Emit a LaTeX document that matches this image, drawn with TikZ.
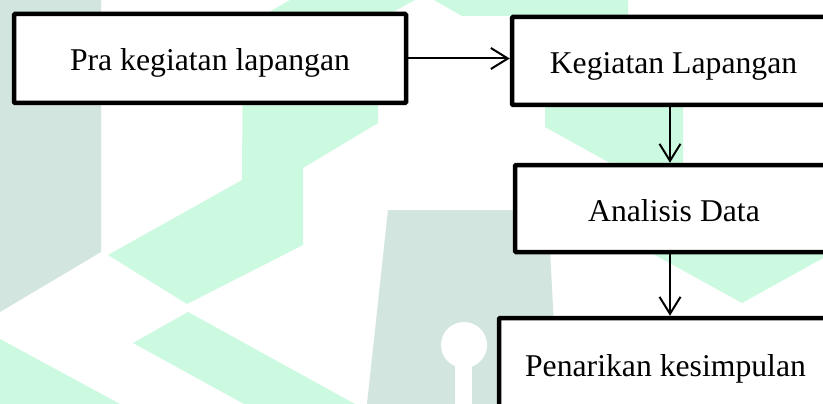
\documentclass[tikz,border=0pt]{standalone}
\usepackage{fontspec}
\setmainfont{Liberation Serif}
\usetikzlibrary{arrows.meta}
\definecolor{mint}{HTML}{CCFAE1}
\definecolor{wmgrey}{HTML}{D3E5DF}
\begin{document}
\begin{tikzpicture}[x=1pt,y=-1pt,
  box/.style={draw, line width=4.5pt, fill=white, rounded corners=1pt, inner sep=0pt,
    text height=25pt, text depth=0pt, font=\fontsize{31.7}{38}\selectfont},
  arr/.style={line width=2pt, -{Straight Barb[length=17pt,width=21pt]}}]
\useasboundingbox (0,0) rectangle (823,404);
\clip (0,0) rectangle (823,404);
\fill[white] (0,0) rectangle (823,404);
% watermark: grey parts
\fill[wmgrey] (0,0) -- (101,0) -- (101,252) -- (0,312) -- cycle;
\fill[wmgrey] (388,210) -- (548,210) -- (558,404) -- (367,404) -- cycle;
\fill[white] (464,345) circle (23);
\fill[white] (455,345) rectangle (472,404);
% watermark: mint parts
\fill[mint] (243,27) -- (290,0) -- (415,0) -- (378,20) -- (378,123) -- (303,168) -- (303,245) -- (187,304) -- (108,255) -- (242,180) -- cycle;
\fill[mint] (434,0) -- (628,0) -- (628,16) -- (462,16) -- cycle;
\fill[mint] (545,107) -- (683,107) -- (683,163) -- (610,163) -- (545,127) -- cycle;
\fill[mint] (653,254) -- (823,254) -- (823,258) -- (742,303) -- cycle;
\fill[mint] (133,343) -- (188,312) -- (355,404) -- (244,404) -- cycle;
\fill[mint] (0,339) -- (120,404) -- (0,404) -- cycle;
% boxes
\node[box, minimum width=392pt, minimum height=89pt] (pra) at (210,58.5) {Pra kegiatan lapangan};
\node[box, minimum width=323pt, minimum height=88pt] (keg) at (673.5,61) {Kegiatan Lapangan};
\node[box, minimum width=318pt, minimum height=87pt] (ana) at (674,208.5) {Analisis Data};
\node[box, minimum width=333pt, minimum height=91pt] (pen) at (665.5,363.5) {Penarikan kesimpulan};
% arrows
\draw[arr] (pra.east) -- (pra.east -| keg.west);
\draw[arr] ([xshift=-3.5pt]keg.south) -- ([xshift=-3.5pt]keg.south |- ana.north);
\draw[arr] ([xshift=-4pt]ana.south) -- ([xshift=-4pt]ana.south |- pen.north);
\end{tikzpicture}
\end{document}
